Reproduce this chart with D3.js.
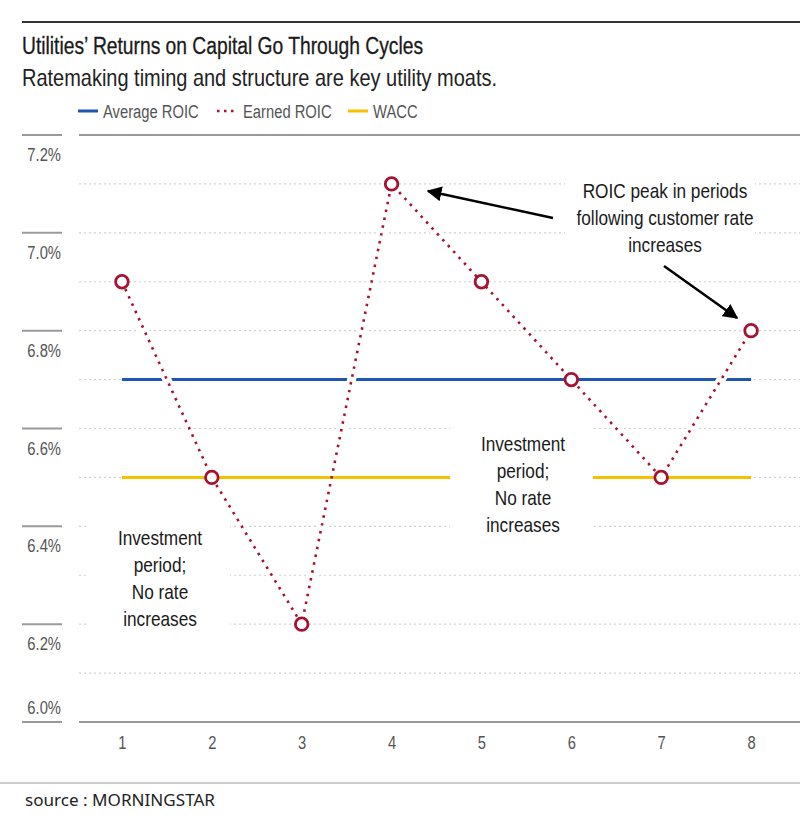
<!DOCTYPE html>
<html><head><meta charset="utf-8">
<script src="https://cdn.jsdelivr.net/npm/d3@7"></script>
<style>
body{margin:0;background:#fff;}
svg{display:block;}
.cond{font-family:"Liberation Sans",Arial,sans-serif;}
</style>
</head><body>
<svg id="chart" width="800" height="820"></svg>
<script>
const periods = [1,2,3,4,5,6,7,8];
const earnedROIC = [6.9,6.5,6.2,7.1,6.9,6.7,6.5,6.8];
const averageROIC = [6.7,6.7,6.7,6.7,6.7,6.7,6.7,6.7];
const wacc = [6.5,6.5,6.5,6.5,6.5,6.5,6.5,6.5];
const yTicks = [6.0,6.2,6.4,6.6,6.8,7.0,7.2];
const yGrid = [6.1,6.2,6.3,6.4,6.5,6.6,6.7,6.8,6.9,7.0,7.1];

const BLUE="#1f56b4", RED="#a8102f", YELLOW="#f6c100";
const svg = d3.select("#chart");
const x = d3.scalePoint().domain(periods).range([77,796]).padding(0.5);
const y = d3.scaleLinear().domain([6.0,7.2]).range([722,135]);

// emulate a narrow face: compress glyphs horizontally to 82 %
function condense(sel){
  sel.each(function(){
    const w = this.getComputedTextLength();
    this.setAttribute("textLength", (w*0.82).toFixed(2));
    this.setAttribute("lengthAdjust","spacingAndGlyphs");
  });
  return sel;
}

// top rule
svg.append("line").attr("x1",22).attr("x2",800).attr("y1",22).attr("y2",22).attr("stroke","#333").attr("stroke-width",2);

// title & subtitle
svg.append("text").attr("class","cond").attr("x",22).attr("y",54).attr("font-size",23).attr("fill","#1a1a1a")
  .attr("stroke","#1a1a1a").attr("stroke-width",0.3)
  .attr("textLength",401).attr("lengthAdjust","spacingAndGlyphs")
  .text("Utilities’ Returns on Capital Go Through Cycles");
svg.append("text").attr("class","cond").attr("x",22).attr("y",86).attr("font-size",24).attr("fill","#222")
  .attr("textLength",475).attr("lengthAdjust","spacingAndGlyphs")
  .text("Ratemaking timing and structure are key utility moats.");

// legend
const leg = svg.append("g").attr("class","cond").attr("font-size",18).attr("fill","#555");
leg.append("line").attr("x1",78).attr("x2",98).attr("y1",111).attr("y2",111).attr("stroke",BLUE).attr("stroke-width",3);
condense(leg.append("text").attr("x",103).attr("y",117.5).text("Average ROIC"));
leg.append("line").attr("x1",217).attr("x2",234).attr("y1",111).attr("y2",111).attr("stroke",RED).attr("stroke-width",2.5).attr("stroke-dasharray","2.5,4.5");
condense(leg.append("text").attr("x",243).attr("y",117.5).text("Earned ROIC"));
leg.append("line").attr("x1",348).attr("x2",368).attr("y1",111).attr("y2",111).attr("stroke",YELLOW).attr("stroke-width",3);
condense(leg.append("text").attr("x",373).attr("y",117.5).text("WACC"));

// gridlines
svg.append("g").selectAll("line").data(yGrid).join("line")
  .attr("x1",79).attr("x2",800).attr("y1",d=>y(d)).attr("y2",d=>y(d))
  .attr("stroke","#cfcfcf").attr("stroke-width",1.2).attr("stroke-dasharray","2,3");
svg.append("line").attr("x1",79).attr("x2",800).attr("y1",y(7.2)).attr("y2",y(7.2)).attr("stroke","#9a9a9a").attr("stroke-width",2);
svg.append("line").attr("x1",79).attr("x2",800).attr("y1",y(6.0)).attr("y2",y(6.0)).attr("stroke","#9a9a9a").attr("stroke-width",2);

// y axis ticks + labels
const ya = svg.append("g").attr("class","cond");
ya.selectAll("line").data(yTicks).join("line")
  .attr("x1",22).attr("x2",62).attr("y1",d=>y(d)).attr("y2",d=>y(d)).attr("stroke","#9a9a9a").attr("stroke-width",2);
condense(ya.selectAll("text").data(yTicks).join("text")
  .attr("x",61).attr("text-anchor","end").attr("font-size",18).attr("fill","#555")
  .attr("y",d=> d===6.0 ? y(d)-8 : y(d)+26)
  .text(d=>d.toFixed(1)+"%"));

// x axis labels
const xAxis = d3.axisBottom(x).tickSize(0).tickPadding(0);
const xg = svg.append("g").attr("transform","translate(0,735)").call(xAxis);
xg.select(".domain").remove();
condense(xg.selectAll("text").attr("class","cond").attr("font-size",18).attr("fill","#555").attr("dy","0.75em")
  .style("font-family",'"Liberation Sans",Arial,sans-serif'));

// average ROIC line
const lineGen = (arr)=> d3.line().x((d,i)=>x(periods[i])).y(d=>y(d))(arr);
svg.append("path").attr("d",lineGen(averageROIC)).attr("fill","none").attr("stroke",BLUE).attr("stroke-width",3);
// white halo of earned ROIC
svg.append("path").attr("d",lineGen(earnedROIC)).attr("fill","none").attr("stroke","#fff").attr("stroke-width",9);
// WACC
svg.append("path").attr("d",lineGen(wacc)).attr("fill","none").attr("stroke",YELLOW).attr("stroke-width",3);

// annotation boxes (white background hiding gridlines)
const boxes = [
  {x:88,y:508,w:142,h:132},
  {x:450,y:418,w:143,h:126},
  {x:565,y:172,w:190,h:88}
];
svg.append("g").selectAll("rect").data(boxes).join("rect")
  .attr("x",d=>d.x).attr("y",d=>d.y).attr("width",d=>d.w).attr("height",d=>d.h).attr("fill","#fff");

// earned ROIC dotted line
svg.append("path").attr("d",lineGen(earnedROIC)).attr("fill","none").attr("stroke",RED).attr("stroke-width",2.6)
  .attr("stroke-dasharray","2.5,5.5");
svg.append("g").selectAll("circle").data(earnedROIC).join("circle")
  .attr("cx",(d,i)=>x(periods[i])).attr("cy",d=>y(d)).attr("r",6.3)
  .attr("fill","#fff").attr("stroke",RED).attr("stroke-width",2.8);

// annotations text
function multi(lines,cx,y0,dy){
  const g = svg.append("g").attr("class","cond").attr("font-size",21).attr("fill","#1a1a1a").attr("text-anchor","middle");
  lines.forEach((l,i)=>condense(g.append("text").attr("x",cx).attr("y",y0+i*dy).text(l)));
}
multi(["ROIC peak in periods","following customer rate","increases"],665,198,27);
multi(["Investment","period;","No rate","increases"],160,545,27);
multi(["Investment","period;","No rate","increases"],523,451,27);

// arrows
const defs = svg.append("defs");
defs.append("marker").attr("id","ah").attr("viewBox","0 0 10 10").attr("refX",9).attr("refY",5)
  .attr("markerWidth",6).attr("markerHeight",6).attr("markerUnits","strokeWidth").attr("orient","auto")
  .append("path").attr("d","M0,0 L10,5 L0,10 z").attr("fill","#000");
svg.append("line").attr("x1",553).attr("y1",218).attr("x2",428).attr("y2",191).attr("stroke","#000").attr("stroke-width",2.5).attr("marker-end","url(#ah)");
svg.append("line").attr("x1",664).attr("y1",266).attr("x2",737).attr("y2",318).attr("stroke","#000").attr("stroke-width",2.5).attr("marker-end","url(#ah)");

// footer
svg.append("line").attr("x1",0).attr("x2",800).attr("y1",783).attr("y2",783).attr("stroke","#bdbdbd").attr("stroke-width",1.5);
svg.append("text").attr("x",25).attr("y",806).attr("font-size",17).attr("fill","#222")
  .style("font-family",'"Noto Sans","Open Sans",sans-serif')
  .attr("textLength",190).attr("lengthAdjust","spacingAndGlyphs")
  .text("source : MORNINGSTAR");
</script>
</body></html>
